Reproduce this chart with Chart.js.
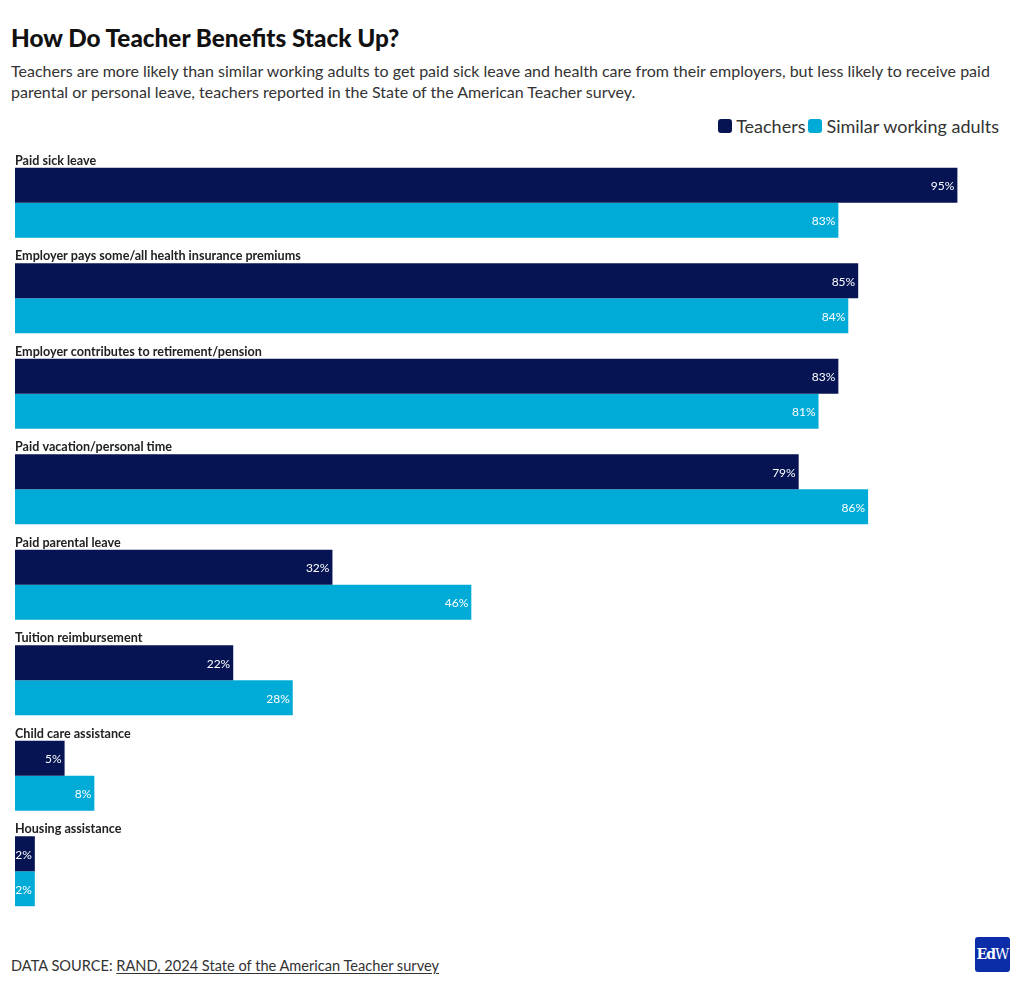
<!DOCTYPE html>
<html>
<head>
<meta charset="utf-8">
<script src="https://cdn.jsdelivr.net/npm/chart.js@4"></script>
<style>
  body { margin: 0; background: #fff; font-family: Lato, "Noto Sans", sans-serif; color: #222; }
  #wrap { position: relative; width: 1020px; height: 986px; }
  h1 { position: absolute; left: 11px; top: 23px; margin: 0; font-size: 24.3px; font-weight: 900; color: #111; }
  .sub { position: absolute; left: 11px; top: 60px; width: 1000px; margin: 0; font-size: 16px; line-height: 21px; color: #333; }
  .legend { position: absolute; right: 21px; top: 115px; font-size: 18px; color: #333; display: flex; align-items: center; }
  .legend span.sw { display: inline-block; width: 14px; height: 14px; border-radius: 3px; margin-right: 4px; }
  .legend span.it { display: flex; align-items: center; margin-left: 3px; }
  #box { position: absolute; left: 0; top: 150px; width: 1020px; height: 780px; }
  .foot { position: absolute; left: 11px; top: 957px; font-size: 14.6px; color: #333; }
  .foot u { text-underline-offset: 2px; }
  .logo { position: absolute; left: 975px; top: 937px; width: 35px; height: 35px; border-radius: 3px; background: #0b2ea8;
          color: #fff; font-family: "DejaVu Serif", serif; font-weight: bold; font-size: 14px; line-height: 35px; text-align: center; letter-spacing: -1px; }
</style>
</head>
<body>
<div id="wrap">
  <h1>How Do Teacher Benefits Stack Up?</h1>
  <p class="sub">Teachers are more likely than similar working adults to get paid sick leave and health care from their employers, but less likely to receive paid<br>parental or personal leave, teachers reported in the State of the American Teacher survey.</p>
  <div class="legend">
    <span class="it"><span class="sw" style="background:#061453"></span>Teachers</span>
    <span class="it"><span class="sw" style="background:#00abd8"></span>Similar working adults</span>
  </div>
  <div id="box"><canvas id="chart"></canvas></div>
  <div class="foot">DATA SOURCE: <u>RAND, 2024 State of the American Teacher survey</u></div>
  <div class="logo">Ed<span style="font-weight:normal">W</span></div>
</div>
<script>
// data
const categories = [
  'Paid sick leave',
  'Employer pays some/all health insurance premiums',
  'Employer contributes to retirement/pension',
  'Paid vacation/personal time',
  'Paid parental leave',
  'Tuition reimbursement',
  'Child care assistance',
  'Housing assistance'
];
const teachers = [95, 85, 83, 79, 32, 22, 5, 2];
const similarAdults = [83, 84, 81, 86, 46, 28, 8, 2];

// category name above each pair of bars, value at the end of each bar
const labelsPlugin = {
  id: 'groupLabels',
  afterDatasetsDraw(chart) {
    const ctx = chart.ctx;
    const meta0 = chart.getDatasetMeta(0);
    ctx.save();
    ctx.font = 'bold 12.6px Lato, sans-serif';
    ctx.fillStyle = '#222';
    ctx.textAlign = 'left';
    ctx.textBaseline = 'bottom';
    meta0.data.forEach((bar, i) => {
      ctx.fillText(categories[i], chart.chartArea.left, bar.y - bar.height / 2 - 1);
    });
    ctx.font = '12px Lato, sans-serif';
    ctx.fillStyle = '#fff';
    ctx.textAlign = 'right';
    ctx.textBaseline = 'middle';
    chart.data.datasets.forEach((ds, d) => {
      chart.getDatasetMeta(d).data.forEach((bar, i) => {
        ctx.fillText(ds.data[i] + '%', bar.x - 3, bar.y + 1);
      });
    });
    ctx.restore();
  }
};

new Chart(document.getElementById('chart'), {
  type: 'bar',
  data: {
    labels: categories,
    datasets: [
      { label: 'Teachers', data: teachers, backgroundColor: '#061453' },
      { label: 'Similar working adults', data: similarAdults, backgroundColor: '#00abd8' }
    ]
  },
  options: {
    indexAxis: 'y',
    responsive: true,
    maintainAspectRatio: false,
    animation: false,
    layout: { padding: { left: 15, right: 13, top: 5, bottom: 11 } },
    categoryPercentage: 0.733,
    barPercentage: 1,
    scales: {
      x: { min: 0, max: 100, display: false },
      y: { display: false }
    },
    plugins: {
      legend: { display: false },
      tooltip: { enabled: false }
    }
  },
  plugins: [labelsPlugin]
});
</script>
</body>
</html>
